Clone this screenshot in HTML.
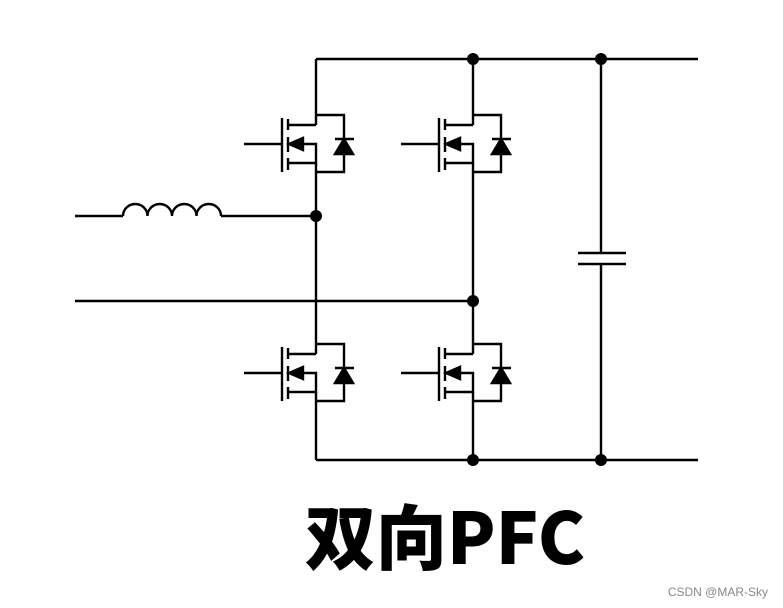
<!DOCTYPE html>
<html><head><meta charset="utf-8"><style>
html,body{margin:0;padding:0;background:#fff;width:783px;height:608px;overflow:hidden}
</style></head><body>
<svg width="783" height="608" viewBox="0 0 783 608" xmlns="http://www.w3.org/2000/svg" style="position:absolute;left:0;top:0">
<defs>
<g id="m" stroke="#000" stroke-width="2.4" fill="none">
  <line x1="244" y1="144" x2="282" y2="144"/>
  <line x1="282" y1="118" x2="282" y2="172"/>
  <line x1="288" y1="119" x2="288" y2="130"/>
  <line x1="288" y1="137" x2="288" y2="152"/>
  <line x1="288" y1="158" x2="288" y2="170"/>
  <polyline points="288,125 316,125"/>
  <polyline points="300,144 316,144 316,163 288,163"/>
  <polygon points="289,144 303,138 303,150" fill="#000"/>
  <polyline points="316,115 344,115 344,172 316,172"/>
  <line x1="335" y1="139" x2="354" y2="139"/>
  <polygon points="344,139 335,154 353,154" fill="#000"/>
</g>
</defs>
<g stroke="#000" stroke-width="2.4" fill="none">
  <line x1="316" y1="59" x2="698" y2="59"/>
  <line x1="316" y1="460" x2="698" y2="460"/>
  <line x1="316" y1="59" x2="316" y2="125"/>
  <line x1="316" y1="163" x2="316" y2="354"/>
  <line x1="316" y1="392" x2="316" y2="460"/>
  <line x1="473" y1="59" x2="473" y2="125"/>
  <line x1="473" y1="163" x2="473" y2="354"/>
  <line x1="473" y1="392" x2="473" y2="460"/>
  <line x1="601" y1="59" x2="601" y2="253"/>
  <line x1="601" y1="264" x2="601" y2="460"/>
  <line x1="578" y1="253" x2="626" y2="253"/>
  <line x1="578" y1="264" x2="626" y2="264"/>
  <line x1="75" y1="216" x2="123" y2="216"/>
  <path d="M123,216 a12.25,12 0 0 1 24.5,0 a12.25,12 0 0 1 24.5,0 a12.25,12 0 0 1 24.5,0 a12.25,12 0 0 1 24.5,0"/>
  <line x1="221" y1="216" x2="316" y2="216"/>
  <line x1="75" y1="301" x2="473" y2="301"/>
</g>
<use href="#m"/>
<use href="#m" transform="translate(157,0)"/>
<use href="#m" transform="translate(0,229)"/>
<use href="#m" transform="translate(157,229)"/>
<g fill="#000">
  <circle cx="473" cy="59" r="6"/><circle cx="601" cy="59" r="6"/>
  <circle cx="473" cy="460" r="6"/><circle cx="601" cy="460" r="6"/>
  <circle cx="316" cy="216" r="6"/><circle cx="473" cy="301" r="6"/>
</g>
<text x="445" y="564" text-anchor="middle" font-family="'Noto Sans CJK SC','Liberation Sans',sans-serif" font-weight="900" font-size="71" fill="#000">双向PFC</text>
<text x="768" y="596" text-anchor="end" font-family="'Liberation Sans',sans-serif" font-size="12" fill="#888">CSDN @MAR-Sky</text>
</svg>
</body></html>
